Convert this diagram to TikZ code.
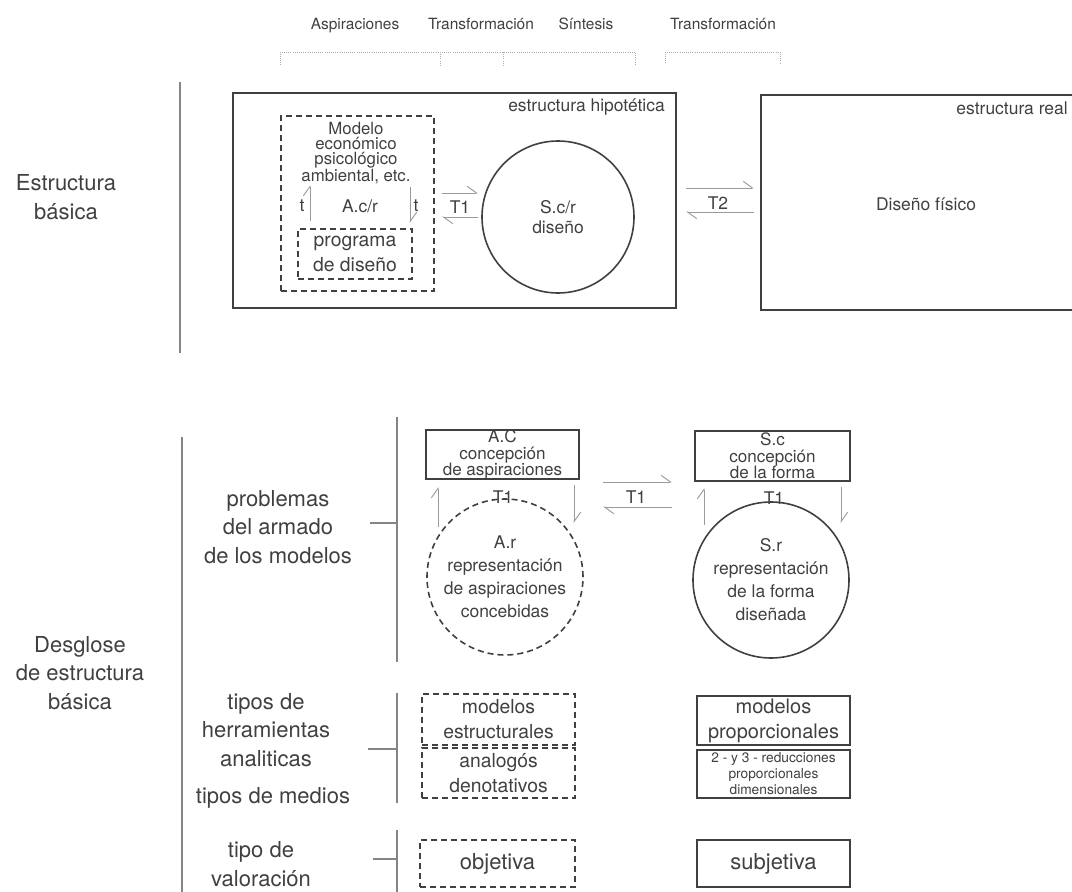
\documentclass[tikz,border=0pt]{standalone}
\usepackage{fontspec}
\setmainfont{TeX Gyre Heros}
\usetikzlibrary{arrows.meta}
\definecolor{txt}{HTML}{404040}
\definecolor{boxc}{HTML}{404040}
\definecolor{arr}{HTML}{9A9A9A}
\definecolor{sep}{HTML}{858585}
\definecolor{brk}{HTML}{ABABAB}
\newcommand\fsz[2]{\fontsize{#1}{#2}\selectfont}
\begin{document}
\begin{tikzpicture}[x=0.75pt,y=-0.75pt,
 lbl/.style={text=txt,inner sep=0pt,align=center},
 big/.style={lbl,font=\fsz{16.5pt}{21.4pt}},
 med/.style={lbl,font=\fsz{13.1pt}{17.3pt}},
 toplbl/.style={lbl,font=\fsz{11.6pt}{14pt},anchor=base},
 wh/.style 2 args={minimum width=#1*0.75pt,minimum height=#2*0.75pt},
 sbox/.style={draw=boxc,line width=1.2pt,inner sep=0pt,text=txt,align=center},
 dbox/.style={sbox,dash pattern=on 4.5pt off 3pt},
 circ/.style={circle,draw=boxc,line width=1.2pt,inner sep=0pt,text=txt,align=center,minimum size=#1*0.75pt},
 harp/.style={draw=arr,line width=0.7pt,-{Straight Barb[harpoon,length=7pt,width=10pt]}},
 sepline/.style={draw=sep,line width=0.8pt},
 brack/.style={draw=brk,line width=0.6pt,densely dotted},
]
\useasboundingbox (0,0) rectangle (1072,892);

% ---------- top labels and brackets
\node[toplbl] (asp) at (355,30) {Aspiraciones};
\node[toplbl] (tra1) at (481,30) {Transformación};
\node[toplbl] (sin) at (586,30) {Síntesis};
\node[toplbl] (tra2) at (723,30) {Transformación};
\draw[brack] (280,65) -- (280,52) -- (635,52) -- (635,65);
\draw[brack] (440,52) -- (440,65);
\draw[brack] (503,52) -- (503,65);
\draw[brack] (665,63) -- (665,52) -- (780,52) -- (780,63);

% ---------- estructura basica
\draw[sepline] (180,82) -- (180,353);
\node[big] (eb) at (66,197) {Estructura\\básica};

\node[sbox,wh={443}{215}] (hyp) at (454.5,200.5) {};
\node[med,anchor=east] (hyplbl) at (665,107) {estructura hipotética};

\node[dbox,wh={153}{175}] (mod) at (357.5,203.5) {};
\node[lbl,font=\fsz{12.6pt}{11.2pt}] (modtxt) at (356,153) {Modelo\\económico\\psicológico\\ambiental, etc.};
\node[med] (acr) at (360,206) {A.c/r};
\node[med] (tl) at (302,206) {t};
\node[med] (tr) at (416,206) {t};
\coordinate (tlb) at (310,221); \coordinate (tlt) at (310,185);
\coordinate (trt) at (410,187); \coordinate (trb) at (410,223);
\draw[harp] (tlb) -- (tlt);
\draw[harp] (trt) -- (trb);
\node[dbox,wh={114}{50},font=\fsz{14.5pt}{18.75pt}] (prog) at (355,254) {programa\\de diseño};

\node[circ=152,font=\fsz{13.1pt}{15pt}] (scr) at (558,217) {S.c/r\\diseño};

\coordinate (h1a) at (442,193); \coordinate (h1b) at (478,193);
\coordinate (h2a) at (478,217); \coordinate (h2b) at (442,217);
\draw[harp] (h1a) -- (h1b);
\draw[harp] (h2a) -- (h2b);
\node[med] (t1a) at (460,207) {T1};

\coordinate (r1a) at (686,188); \coordinate (r1b) at (754,188);
\coordinate (r2a) at (754,212); \coordinate (r2b) at (686,212);
\draw[harp] (r1a) -- (r1b);
\draw[harp] (r2a) -- (r2b);
\node[med] (t2) at (718,203) {T2};

\begin{scope}
\clip (0,0) rectangle (1072,892);
\node[sbox,wh={330}{215}] (real) at (926,202.5) {};
\end{scope}
\node[med,anchor=east] (reallbl) at (1068,108) {estructura real};
\node[med] (dfis) at (926,204) {Diseño físico};

% ---------- desglose
\draw[sepline] (182,437) -- (182,892);
\node[big] (desg) at (80,673) {Desglose\\de estructura\\básica};
\node[big] (prob) at (278,527) {problemas\\del armado\\de los modelos};
\node[big] (herr) at (266,730) {tipos de\\herramientas\\analiticas};
\node[big] (medios) at (273,798) {tipos de medios};
\node[big] (val) at (261,864) {tipo de\\valoración};

\draw[sepline] (397,417) -- (397,662);
\draw[sepline] (370,523) -- (397,523);
\draw[sepline] (397,693) -- (397,803);
\draw[sepline] (368,749) -- (397,749);
\draw[sepline] (397,830) -- (397,892);
\draw[sepline] (373,859) -- (397,859);

\node[sbox,wh={153}{49},font=\fsz{12.8pt}{12.4pt}] (ac) at (502.5,454.5) {A.C\\concepción\\de aspiraciones};
\node[med] (t1b) at (503,497) {T1};
\coordinate (a1a) at (438,527); \coordinate (a1b) at (438,487);
\coordinate (a2a) at (574,485); \coordinate (a2b) at (574,523);
\draw[harp] (a1a) -- (a1b);
\draw[harp] (a2a) -- (a2b);
\node[circ=156,dash pattern=on 4.5pt off 3pt,font=\fsz{13.1pt}{17.3pt}] (ar) at (505,577) {A.r\\representación\\de aspiraciones\\concebidas};

\coordinate (m1a) at (603,482); \coordinate (m1b) at (672,482);
\coordinate (m2a) at (672,507); \coordinate (m2b) at (603,507);
\draw[harp] (m1a) -- (m1b);
\draw[harp] (m2a) -- (m2b);
\node[med] (t1c) at (636,497) {T1};

\node[sbox,wh={155}{50},font=\fsz{12.8pt}{12.4pt}] (sc) at (772.5,456) {S.c\\concepción\\de la forma};
\node[med] (t1d) at (774,498) {T1};
\coordinate (s1a) at (704,525); \coordinate (s1b) at (704,488);
\coordinate (s2a) at (841,487); \coordinate (s2b) at (841,523);
\draw[harp] (s1a) -- (s1b);
\draw[harp] (s2a) -- (s2b);
\node[circ=156,font=\fsz{13.1pt}{17.3pt}] (sr) at (771,580) {S.r\\representación\\de la forma\\diseñada};

\node[dbox,wh={153}{51},font=\fsz{14.5pt}{18.75pt}] (mest) at (498.5,719.5) {modelos\\estructurales};
\node[dbox,wh={153}{50},font=\fsz{14.5pt}{18.75pt}] (anal) at (498.5,773) {analogós\\denotativos};
\node[dbox,wh={155}{47},font=\fsz{16.5pt}{20pt}] (obj) at (497.5,863.5) {objetiva};

\node[sbox,wh={153}{49},font=\fsz{15pt}{18.75pt}] (mprop) at (773.5,720.5) {modelos\\proporcionales};
\node[sbox,wh={153}{48},font=\fsz{10.3pt}{12pt}] (red) at (773.5,774) {2 - y 3 - reducciones\\proporcionales\\dimensionales};
\node[sbox,wh={153}{47},font=\fsz{16.5pt}{20pt}] (subj) at (773.5,863.5) {subjetiva};
\end{tikzpicture}
\end{document}
